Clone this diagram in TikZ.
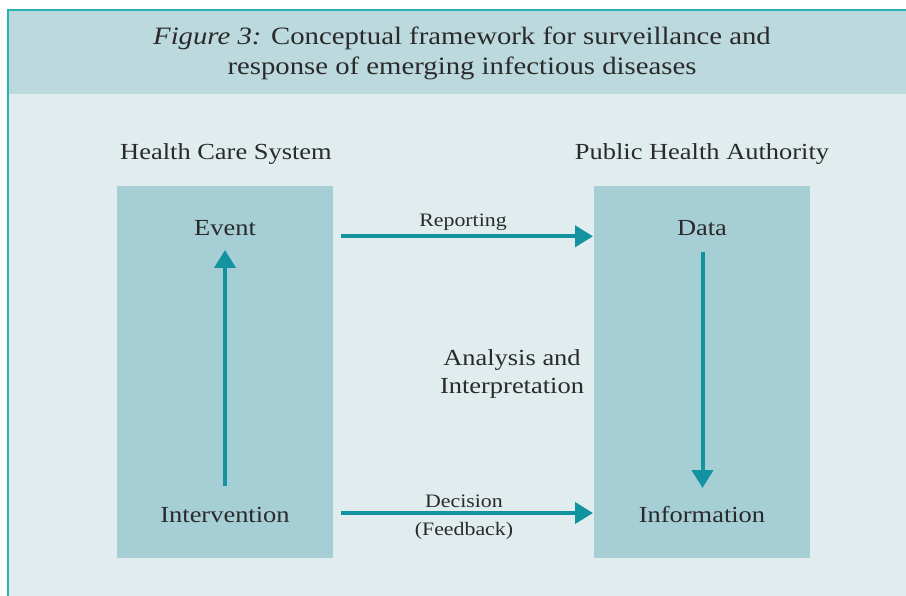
\documentclass[tikz,border=0pt]{standalone}
\usepackage{fontspec}
\setmainfont[FakeStretch=1.15]{Liberation Serif}
\usetikzlibrary{arrows.meta}
\definecolor{frameline}{HTML}{2AB2B6}
\definecolor{bandc}{HTML}{BCD9DE}
\definecolor{bgc}{HTML}{E0ECEE}
\definecolor{boxc}{HTML}{A6CED5}
\definecolor{arrowc}{HTML}{12939F}
\definecolor{txt}{HTML}{2A2A2A}
\begin{document}
\begin{tikzpicture}[x=1pt,y=-1pt,
  lbl/.style={inner sep=0pt, anchor=base, text=txt, font=\fontsize{23}{23}\selectfont},
  small/.style={inner sep=0pt, anchor=base, text=txt, font=\fontsize{19}{19}\selectfont},
  ttl/.style={inner sep=0pt, anchor=base, text=txt, font=\fontsize{25}{25}\selectfont},
  panel/.style={fill=boxc, draw=none, minimum width=216pt, minimum height=372pt, inner sep=0pt},
  flow/.style={draw=arrowc, line width=4pt, -{Triangle[length=18pt,width=21pt]}}]
\useasboundingbox (0,0) rectangle (906,596);
% background
\fill[white] (0,0) rectangle (906,596);
\fill[bandc] (8,10) rectangle (906,94);
\fill[bgc] (8,94) rectangle (906,596);
\draw[frameline, line width=1.2pt] (8,596) -- (8,10) -- (906,10);
% title
\node[ttl] (title1) at (462,45) {\textit{Figure 3:} Conceptual framework for surveillance and};
\node[ttl] (title2) at (462,75) {response of emerging infectious diseases};
% column headings
\node[lbl] (hcs) at (226,160) {Health Care System};
\node[lbl] (pha) at (702,160) {Public Health Authority};
% panels
\node[panel] (leftbox) at (225,372) {};
\node[panel] (rightbox) at (702,372) {};
% labels in panels
\node[lbl] (event) at (225,235.5) {Event};
\node[lbl] (intervention) at (225,522) {Intervention};
\node[lbl] (data) at (702,235.5) {Data};
\node[lbl] (information) at (702,522) {Information};
% middle labels
\node[small] (reporting) at (463,226.5) {Reporting};
\node[small] (decision) at (464,507) {Decision};
\node[small] (feedback) at (464,535) {(Feedback)};
\node[lbl] (analysis1) at (512,366) {Analysis and};
\node[lbl] (analysis2) at (512,393) {Interpretation};
% arrow end points
\coordinate (upTail) at (225,486);
\coordinate (upTip) at (225,250);
\coordinate (downTail) at (702.5,252);
\coordinate (downTip) at (702.5,488);
\coordinate (repTail) at (341,236.3);
\coordinate (repTip) at (593,236.3);
\coordinate (decTail) at (341,513);
\coordinate (decTip) at (593,513);
% arrows
\draw[flow] (upTail) -- (upTip);
\draw[flow] (downTail) -- (downTip);
\draw[flow] (repTail) -- (repTip);
\draw[flow] (decTail) -- (decTip);
\end{tikzpicture}
\end{document}
